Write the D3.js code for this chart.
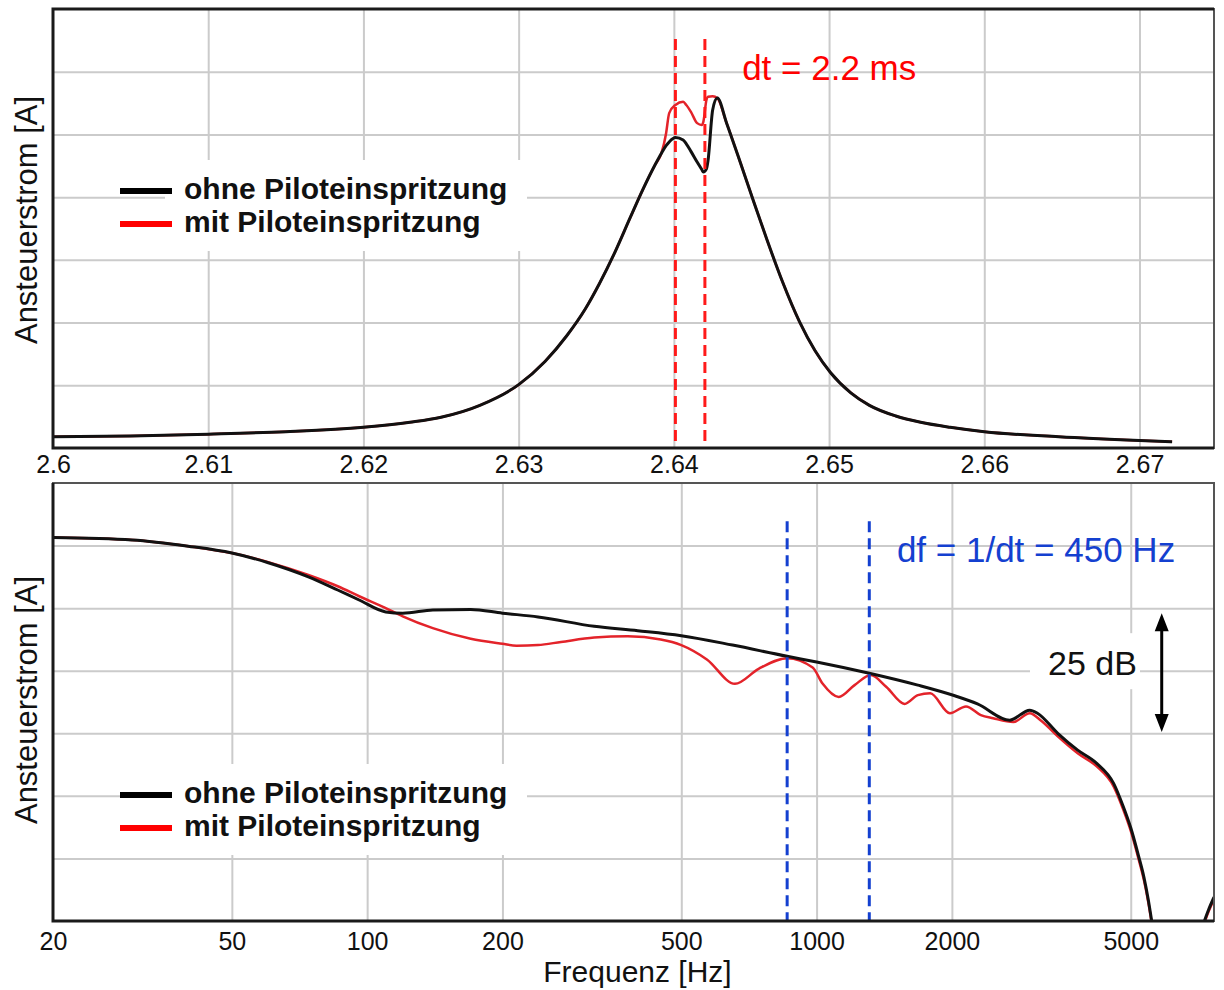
<!DOCTYPE html>
<html>
<head>
<meta charset="utf-8">
<script src="https://cdnjs.cloudflare.com/ajax/libs/d3/7.8.5/d3.min.js"></script>
<style>
  body { margin: 0; background: #fff; }
  svg { display: block; font-family: "Liberation Sans", Arial, sans-serif; }
</style>
</head>
<body>
<svg id="canvas"></svg>
<script>
// top panel: time [s] and curve height in grid units (0 = x axis)
let timeValues = [2.600, 2.605, 2.610, 2.615, 2.620, 2.623, 2.625, 2.6275, 2.630, 2.6317, 2.6331, 2.6343, 2.6352, 2.6362,
  2.6372, 2.6380, 2.6388, 2.6392, 2.6395, 2.6397, 2.6401, 2.6406, 2.6408, 2.6411, 2.6415, 2.6418, 2.6419, 2.6421,
  2.6422, 2.6425, 2.6428, 2.6434, 2.6443, 2.6451, 2.6460, 2.6470, 2.6481, 2.6491, 2.6501, 2.6514, 2.6526, 2.6543,
  2.6559, 2.6578, 2.6600, 2.6648, 2.6700, 2.6721];
let topOhne = [0.18, 0.19, 0.22, 0.26, 0.33, 0.41, 0.49, 0.68, 1.01, 1.38, 1.79, 2.22, 2.62, 3.12,
  3.68, 4.12, 4.52, 4.70, 4.82, 4.88, 4.95, 4.91, 4.85, 4.73, 4.56, 4.44, 4.40, 4.45,
  4.58, 5.39, 5.58, 5.18, 4.54, 3.96, 3.32, 2.65, 2.01, 1.55, 1.20, 0.88, 0.68, 0.51,
  0.41, 0.33, 0.26, 0.18, 0.12, 0.10];
let topMit = [0.18, 0.19, 0.22, 0.26, 0.33, 0.41, 0.49, 0.68, 1.01, 1.38, 1.79, 2.22, 2.62, 3.12,
  3.68, 4.12, 4.52, 4.70, 5.02, 5.34, 5.47, 5.52, 5.47, 5.36, 5.18, 5.15, 5.20, 5.55,
  5.60, 5.61, 5.58, 5.18, 4.54, 3.96, 3.32, 2.65, 2.01, 1.55, 1.20, 0.88, 0.68, 0.51,
  0.41, 0.33, 0.26, 0.18, 0.12, 0.10];
let timeTicks = [2.6, 2.61, 2.62, 2.63, 2.64, 2.65, 2.66, 2.67];
let timeMarkers = [2.6401, 2.6420];

// bottom panel: frequency [Hz] and level in grid units (null = below the axis)
let freqOhne = [20, 30, 40, 50, 60, 74, 86, 96, 110, 120, 140, 170, 200, 240, 320, 400, 500, 650, 860, 1000,
  1310, 1680, 2030, 2280, 2690, 2980, 3100, 3440, 3810, 4200, 4580, 4800, 5000, 5200, 5350, 5470, 5580,
  6500, 7250, 7450, 7660];
let levelOhne = [6.13, 6.09, 5.99, 5.88, 5.73, 5.50, 5.29, 5.13, 4.94, 4.92, 4.97, 4.98, 4.92, 4.86, 4.71, 4.64, 4.56, 4.41, 4.23, 4.14,
  3.96, 3.77, 3.60, 3.47, 3.21, 3.37, 3.32, 3.00, 2.73, 2.52, 2.20, 1.85, 1.49, 1.05, 0.70, 0.34, -0.05,
  null, -0.05, 0.18, 0.38];
let freqMit = [20, 30, 40, 50, 60, 74, 86, 96, 110, 120, 140, 170, 200, 215, 240, 270, 320, 380, 450, 500,
  570, 658, 743, 860, 980, 1032, 1120, 1215, 1320, 1430, 1570, 1680, 1790, 1980, 2150, 2320, 2470, 2740,
  2980, 3160, 3440, 3810, 4200, 4580, 4800, 5000, 5200, 5350, 5470, 5580, 6500, 7250, 7450, 7660];
let levelMit = [6.13, 6.09, 5.99, 5.88, 5.74, 5.53, 5.35, 5.19, 5.00, 4.87, 4.68, 4.51, 4.43, 4.40, 4.41, 4.46, 4.53, 4.55, 4.50, 4.41,
  4.18, 3.79, 4.03, 4.20, 4.05, 3.79, 3.58, 3.77, 3.93, 3.74, 3.47, 3.61, 3.64, 3.32, 3.43, 3.29, 3.24, 3.18,
  3.32, 3.20, 2.95, 2.68, 2.47, 2.15, 1.80, 1.44, 1.00, 0.65, 0.30, -0.08, null, -0.08, 0.15, 0.35];
let freqTicks = [20, 50, 100, 200, 500, 1000, 2000, 5000];
let freqMarkers = [860, 1310];

let gridRows = [1, 2, 3, 4, 5, 6];
let legendLabels = ["ohne Piloteinspritzung", "mit Piloteinspritzung"];
let yLabel = "Ansteuerstrom [A]";

let width = 1224;
let height = 990;
let left = 53;
let right = 1214;

let black = "#111";
let red = "#e3232a";
let blue = "#1440d0";

let canvas = d3.select("#canvas")
  .attr("width", width)
  .attr("height", height);

let xTime = d3.scaleLinear().domain([2.6, 2.6748]).range([left, right]);
let yTop = d3.scaleLinear().domain([0, 7]).range([448, 9]);
let xFreq = d3.scaleLog().domain([20, 7660]).range([left, right]);
let yBot = d3.scaleLinear().domain([0, 7]).range([921, 483]);

let drawGrid = (xScale, yScale, xGrid) => {
  let [y1, y0] = yScale.range();
  canvas.append("g")
    .attr("transform", "translate(0," + y1 + ")")
    .call(d3.axisBottom(xScale).tickValues(xGrid).tickSize(-(y1 - y0)).tickFormat(""))
    .call(g => g.select(".domain").remove())
    .selectAll("line").attr("stroke", "#cbcbcb").attr("stroke-width", 2);
  canvas.append("g")
    .attr("transform", "translate(" + left + ",0)")
    .call(d3.axisLeft(yScale).tickValues(gridRows).tickSize(-(right - left)).tickFormat(""))
    .call(g => g.select(".domain").remove())
    .selectAll("line").attr("stroke", "#cbcbcb").attr("stroke-width", 2);
}

let drawLabels = (xScale, yScale, ticks, fmt, pad, labelY) => {
  let y1 = yScale.range()[0];
  canvas.append("g")
    .attr("transform", "translate(0," + y1 + ")")
    .call(d3.axisBottom(xScale).tickValues(ticks).tickSize(0).tickPadding(pad).tickFormat(fmt))
    .call(g => g.select(".domain").remove())
    .selectAll("text")
    .attr("font-family", "Liberation Sans, Arial, sans-serif")
    .attr("font-size", 25)
    .attr("fill", "#111");

  canvas.append("text")
    .attr("transform", "translate(37," + labelY + ") rotate(-90)")
    .attr("text-anchor", "middle")
    .attr("font-size", 31)
    .attr("fill", "#111")
    .text(yLabel);
}

let drawLegend = (yBase) => {
  canvas.append("rect")
    .attr("x", 165).attr("y", yBase - 39)
    .attr("width", 362).attr("height", 91)
    .attr("fill", "#fff");
  legendLabels.forEach((label, i) => {
    let y = yBase + i * 33;
    canvas.append("line")
      .attr("x1", 120).attr("x2", 172)
      .attr("y1", y - 8).attr("y2", y - 8)
      .attr("stroke", i == 0 ? "#000" : "#f00")
      .attr("stroke-width", 6);
    canvas.append("text")
      .attr("x", 184).attr("y", y)
      .attr("font-size", 30)
      .attr("font-weight", "bold")
      .attr("fill", "#111")
      .text(label);
  });
}

let drawCurve = (clipId, points, color, w) => {
  let line = d3.line()
    .defined(d => d.v !== null)
    .x(d => d.x)
    .y(d => d.y)
    .curve(d3.curveMonotoneX);
  canvas.append("path")
    .datum(points)
    .attr("clip-path", "url(#" + clipId + ")")
    .attr("fill", "none")
    .attr("stroke", color)
    .attr("stroke-width", w)
    .attr("stroke-linejoin", "round")
    .attr("d", line);
}

let drawFrame = (yScale) => {
  let [y1, y0] = yScale.range();
  canvas.append("rect")
    .attr("x", left).attr("y", y0)
    .attr("width", right - left).attr("height", y1 - y0)
    .attr("fill", "none")
    .attr("stroke", "#555")
    .attr("stroke-width", 2);
  canvas.append("path")
    .attr("d", "M" + right + "," + y1 + "H" + left + "V" + y0 + (y0 < 100 ? "H" + right : ""))
    .attr("fill", "none")
    .attr("stroke", "#1a1a1a")
    .attr("stroke-width", 3);
}

let defs = canvas.append("defs");
[["clipTop", yTop], ["clipBot", yBot]].forEach(([id, ys]) => {
  defs.append("clipPath").attr("id", id)
    .append("rect")
    .attr("x", left).attr("y", ys.range()[1])
    .attr("width", right - left).attr("height", ys.range()[0] - ys.range()[1]);
});

// ---- top panel ----
drawGrid(xTime, yTop, timeTicks.slice(1));
drawLegend(199);

let topMitPts = timeValues.map((t, i) => ({ x: xTime(t), y: yTop(topMit[i]), v: topMit[i] }));
let topOhnePts = timeValues.map((t, i) => ({ x: xTime(t), y: yTop(topOhne[i]), v: topOhne[i] }));
drawCurve("clipTop", topMitPts, red, 2.5);
drawCurve("clipTop", topOhnePts, black, 3);

canvas.selectAll(".tmark")
  .data(timeMarkers)
  .enter()
  .append("line")
  .attr("class", "tmark")
  .attr("x1", d => xTime(d)).attr("x2", d => xTime(d))
  .attr("y1", yTop(6.52)).attr("y2", yTop(0))
  .attr("stroke", "#ff1a1a")
  .attr("stroke-width", 3)
  .attr("stroke-dasharray", "11,6");

canvas.append("text")
  .attr("x", xTime(2.6444)).attr("y", yTop(5.87))
  .attr("font-size", 35)
  .attr("fill", "#ff0000")
  .text("dt = 2.2 ms");

drawFrame(yTop);
drawLabels(xTime, yTop, timeTicks, d => d, 7, 220);

// ---- bottom panel ----
drawGrid(xFreq, yBot, freqTicks.slice(1));
drawLegend(803);

// white box behind the 25 dB note
canvas.append("rect")
  .attr("x", 1030).attr("y", yBot(4.6))
  .attr("width", 110).attr("height", 56)
  .attr("fill", "#fff");

let botMitPts = freqMit.map((f, i) => ({ x: xFreq(f), y: yBot(levelMit[i]), v: levelMit[i] }));
let botOhnePts = freqOhne.map((f, i) => ({ x: xFreq(f), y: yBot(levelOhne[i]), v: levelOhne[i] }));
drawCurve("clipBot", botMitPts, red, 2.5);
drawCurve("clipBot", botOhnePts, black, 3);

canvas.selectAll(".fmark")
  .data(freqMarkers)
  .enter()
  .append("line")
  .attr("class", "fmark")
  .attr("x1", d => xFreq(d)).attr("x2", d => xFreq(d))
  .attr("y1", yBot(6.39)).attr("y2", yBot(0))
  .attr("stroke", blue)
  .attr("stroke-width", 3)
  .attr("stroke-dasharray", "11,6");

canvas.append("text")
  .attr("x", xFreq(1509)).attr("y", yBot(5.74))
  .attr("font-size", 35)
  .attr("fill", blue)
  .text("df = 1/dt = 450 Hz");

canvas.append("text")
  .attr("x", xFreq(3272)).attr("y", yBot(3.93))
  .attr("font-size", 34)
  .attr("fill", "#111")
  .text("25 dB");

// double arrow for the 25 dB span
let ax = xFreq(5860);
let aTop = yBot(4.92);
let aBot = yBot(3.02);
canvas.append("line")
  .attr("x1", ax).attr("x2", ax)
  .attr("y1", aTop + 12).attr("y2", aBot - 12)
  .attr("stroke", "#000")
  .attr("stroke-width", 3);
canvas.append("path")
  .attr("d", "M" + ax + "," + aTop + "l-7,18h14z M" + ax + "," + aBot + "l-7,-18h14z")
  .attr("fill", "#000");

drawFrame(yBot);
drawLabels(xFreq, yBot, freqTicks, d3.format("d"), 11, 700);

canvas.append("text")
  .attr("x", (left + right) / 2 + 4).attr("y", 982)
  .attr("text-anchor", "middle")
  .attr("font-size", 30)
  .attr("fill", "#111")
  .text("Frequenz [Hz]");
</script>
</body>
</html>
